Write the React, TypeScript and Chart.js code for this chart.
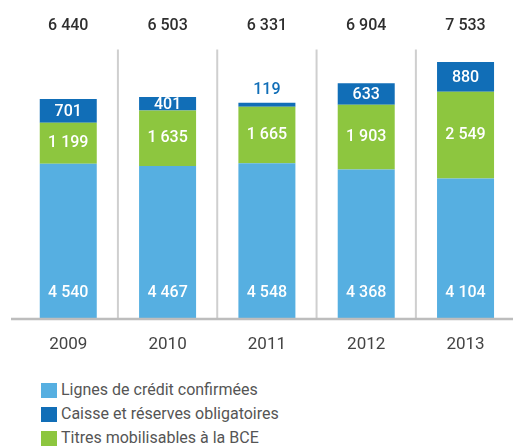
import React, { useEffect, useRef } from "react";
import { Chart, registerables } from "chart.js";

Chart.register(...registerables);

const years = ["2009", "2010", "2011", "2012", "2013"];
const lignesCredit = [4540, 4467, 4548, 4368, 4104];
const titresBCE = [1199, 1635, 1665, 1903, 2549];
const caisseReserves = [701, 401, 119, 633, 880];
const totals = [6440, 6503, 6331, 6904, 7533];

const legendLabels = [
  "Lignes de crédit confirmées",
  "Caisse et réserves obligatoires",
  "Titres mobilisables à la BCE",
];

const C_LIGHT = "#56AFE1";
const C_DARK = "#116EB7";
const C_GREEN = "#8DC63F";
const FONT = "Roboto, 'Noto Sans', sans-serif";

const fmt = (n: number) => String(n).replace(/\B(?=(\d{3})+(?!\d))/g, " ");

const decorPlugin = {
  id: "decor",
  beforeDatasetsDraw(chart: any) {
    const { ctx, chartArea, scales } = chart;
    const x = scales.x;
    ctx.save();
    ctx.strokeStyle = "#cfcfcf";
    ctx.lineWidth = 2;
    for (let i = 0; i < years.length - 1; i++) {
      const xs = (x.getPixelForValue(i) + x.getPixelForValue(i + 1)) / 2;
      ctx.beginPath();
      ctx.moveTo(xs, chartArea.top);
      ctx.lineTo(xs, chartArea.bottom);
      ctx.stroke();
    }
    ctx.restore();
  },
  afterDatasetsDraw(chart: any) {
    const { ctx, chartArea, scales } = chart;
    const x = scales.x;
    const y = scales.y;
    ctx.save();
    // axis line
    ctx.strokeStyle = "#bdbdbd";
    ctx.lineWidth = 2.5;
    ctx.beginPath();
    ctx.moveTo(11, chartArea.bottom + 1);
    ctx.lineTo(chart.width, chartArea.bottom + 1);
    ctx.stroke();

    ctx.textAlign = "center";
    ctx.textBaseline = "middle";
    // totals
    ctx.font = `500 16px ${FONT}`;
    ctx.fillStyle = "#2e2e2e";
    totals.forEach((t, i) => {
      ctx.fillText(fmt(t), x.getPixelForValue(i), 26);
    });

    ctx.font = `500 16px ${FONT}`;
    years.forEach((_, i) => {
      const cx = x.getPixelForValue(i);
      const base = y.getPixelForValue(0);
      // light blue: near base
      ctx.fillStyle = "#ffffff";
      ctx.fillText(fmt(lignesCredit[i]), cx, base - 25);
      // green: centered
      const g0 = y.getPixelForValue(lignesCredit[i]);
      const g1 = y.getPixelForValue(lignesCredit[i] + titresBCE[i]);
      ctx.fillText(fmt(titresBCE[i]), cx, (g0 + g1) / 2);
      // dark blue
      const d1 = y.getPixelForValue(lignesCredit[i] + titresBCE[i] + caisseReserves[i]);
      if (g1 - d1 < 8) {
        ctx.fillStyle = C_DARK;
        ctx.fillText(fmt(caisseReserves[i]), cx, d1 - 13);
      } else {
        ctx.fillStyle = "#ffffff";
        ctx.fillText(fmt(caisseReserves[i]), cx, (g1 + d1) / 2 + 1);
      }
    });
    ctx.restore();
  },
};

export default function App() {
  const ref = useRef<HTMLCanvasElement>(null);
  useEffect(() => {
    if (!ref.current) return;
    const chart = new Chart(ref.current, {
      type: "bar",
      data: {
        labels: years,
        datasets: [
          { label: legendLabels[0], data: lignesCredit, backgroundColor: C_LIGHT },
          { label: legendLabels[2], data: titresBCE, backgroundColor: C_GREEN },
          { label: legendLabels[1], data: caisseReserves, backgroundColor: C_DARK },
        ],
      },
      options: {
        responsive: false,
        animation: false,
        barPercentage: 0.574,
        categoryPercentage: 1,
        layout: { padding: { left: 18.6, right: 4.8, top: 49.4, bottom: 0 } },
        plugins: { legend: { display: false }, tooltip: { enabled: false } },
        scales: {
          x: {
            stacked: true,
            grid: { display: false, drawTicks: false },
            border: { display: false },
            ticks: { color: "#444444", font: { family: FONT, size: 17, weight: "normal" }, padding: 17 },
            afterFit: (s: any) => { s.height = 42; },
          },
          y: {
            stacked: true,
            display: false,
            min: 0,
            max: 7900,
          },
        },
      },
      plugins: [decorPlugin],
    } as any);
    return () => chart.destroy();
  }, []);

  const colors = [C_LIGHT, C_DARK, C_GREEN];
  return (
    <div style={{ position: "absolute", left: 0, top: 0, width: 513, height: 446, overflow: "hidden", background: "#fff" }}>
      <canvas ref={ref} width={520} height={360} style={{ display: "block", position: "absolute", left: 0, top: 0 }} />
      {legendLabels.map((l, i) => (
        <div key={l} style={{ position: "absolute", left: 41, top: 382 + i * 24, height: 16, display: "flex", alignItems: "center", whiteSpace: "nowrap" }}>
          <span style={{ display: "inline-block", width: 16, height: 15, background: colors[i], marginRight: 4 }} />
          <span style={{ fontFamily: FONT, fontSize: 16, color: "#555555", lineHeight: "16px" }}>{l}</span>
        </div>
      ))}
    </div>
  );
}
